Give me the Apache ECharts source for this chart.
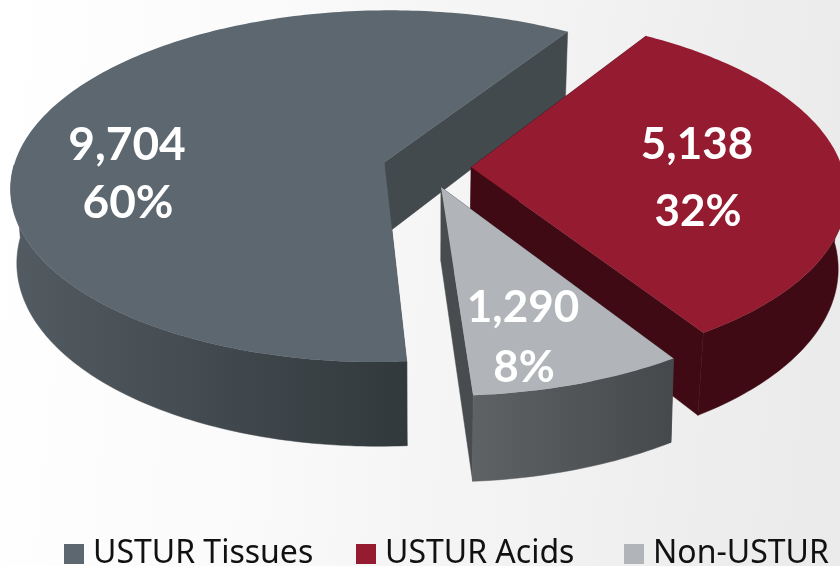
<!DOCTYPE html>
<html>
<head>
<meta charset="utf-8">
<script src="https://cdn.jsdelivr.net/npm/echarts@6/dist/echarts.min.js"></script>
<style>html,body{margin:0;padding:0;overflow:hidden}#c{width:840px;height:566px}</style>
</head>
<body>
<div id="c"></div>
<script>
const categories = ['USTUR Tissues', 'USTUR Acids', 'Non-USTUR'];
const values = [9704, 5138, 1290];
const valueLabels = ['9,704', '5,138', '1,290'];

// drawing style
const START = 176.1, EXPLODE = 0.119;
const CX = 427, CY = 167.3, KX = 371, KY = 174, PERSP = 0.137, H = 73;
const baseScale = [0.985, 0.98, 0.99];
const topColors = ['#5c6770', '#951b30', '#b1b5b9'];
const cutColors = ['#434a4e', '#3f0a14', '#484c4f'];
const rimStops = [
  {x: 15, x2: 407, a: '#535b62', b: '#32393c'},
  {x: 700, x2: 840, a: '#3f0a14', b: '#3f0a14'},
  {x: 473, x2: 672, a: '#5f6265', b: '#45494b'}
];
const labelSpots = [
  [[127, 145], [128, 203]],
  [[697, 145], [698, 212]],
  [[523, 308], [524, 368]]
];
const labelSizes = [46, 44, 44];
const legendLefts = [59, 351, 619];

const total = values.reduce((a, b) => a + b, 0);
const rad = d => d * Math.PI / 180;

function project(X, Y, baseX) {
  const w = 1 - PERSP * Y;
  let x = KX * X / w, y = KY * Y / w;
  if (baseX) { x *= baseX; y += H / w; }
  return [CX + x, CY + y];
}

function renderSlice(idx) {
  return function () {
    // slices run clockwise: tissues, acids, non-USTUR
    const spans = values.map(v => v / total * 360);
    let s = START;
    for (let i = 0; i < idx; i++) s += spans[i];
    const e = s + spans[idx], mid = (s + e) / 2;
    const ox = EXPLODE * Math.sin(rad(mid)), oy = -EXPLODE * Math.cos(rad(mid));
    const bs = baseScale[idx];
    const at = (deg, base) => project(ox + Math.sin(rad(deg)), oy - Math.cos(rad(deg)), base);
    const apex = b => project(ox, oy, b);
    const arc = [];
    for (let d = s; d < e; d += 1) arc.push(d);
    arc.push(e);
    const topPts = [apex(0)].concat(arc.map(d => at(d, 0)));
    const front = arc.filter(d => -Math.cos(rad(d)) >= 0);
    const rimPts = front.map(d => at(d, 0)).concat(front.slice().reverse().map(d => at(d, bs)));
    const quad = d => [apex(0), at(d, 0), at(d, bs), apex(bs)];
    const rs = rimStops[idx];
    const rimFill = new echarts.graphic.LinearGradient(rs.x, 0, rs.x2, 0,
      [{offset: 0, color: rs.a}, {offset: 1, color: rs.b}], true);
    const children = [
      {type: 'polygon', shape: {points: quad(s)}, style: {fill: cutColors[idx], stroke: cutColors[idx], lineWidth: 0.5}},
      {type: 'polygon', shape: {points: quad(e)}, style: {fill: cutColors[idx], stroke: cutColors[idx], lineWidth: 0.5}},
      {type: 'polygon', shape: {points: rimPts}, style: {fill: rimFill, stroke: rimFill, lineWidth: 0.5}},
      {type: 'polygon', shape: {points: topPts}, style: {fill: topColors[idx]}}
    ];
    const lines = [valueLabels[idx], Math.round(values[idx] / total * 100) + '%'];
    lines.forEach((t, i) => children.push({
      type: 'text', x: labelSpots[idx][i][0], y: labelSpots[idx][i][1],
      style: {text: t, fill: '#fff', font: 'bold ' + labelSizes[idx] + 'px Lato', align: 'center', verticalAlign: 'middle'}
    }));
    return {type: 'group', children};
  };
}

const chart = echarts.init(document.getElementById('c'), null, {renderer: 'canvas'});
chart.setOption({
  animation: false,
  backgroundColor: new echarts.graphic.LinearGradient(0, 0, 1, 0.15, [
    {offset: 0, color: '#ffffff'}, {offset: 0.3, color: '#fbfbfb'}, {offset: 1, color: '#ebebeb'}
  ]),
  legend: categories.map((c, i) => ({
    left: legendLefts[i], top: 533, icon: 'rect', itemWidth: 20, itemHeight: 20,
    selectedMode: false, data: [c],
    textStyle: {fontFamily: 'Noto Sans', fontSize: 32, color: '#111', padding: [0, 0, 0, 4]}
  })),
  series: categories.map((name, i) => ({
    type: 'custom', name, coordinateSystem: 'none', silent: true,
    itemStyle: {color: topColors[i]},
    data: [values[i]],
    renderItem: renderSlice(i)
  }))
});
</script>
</body>
</html>
